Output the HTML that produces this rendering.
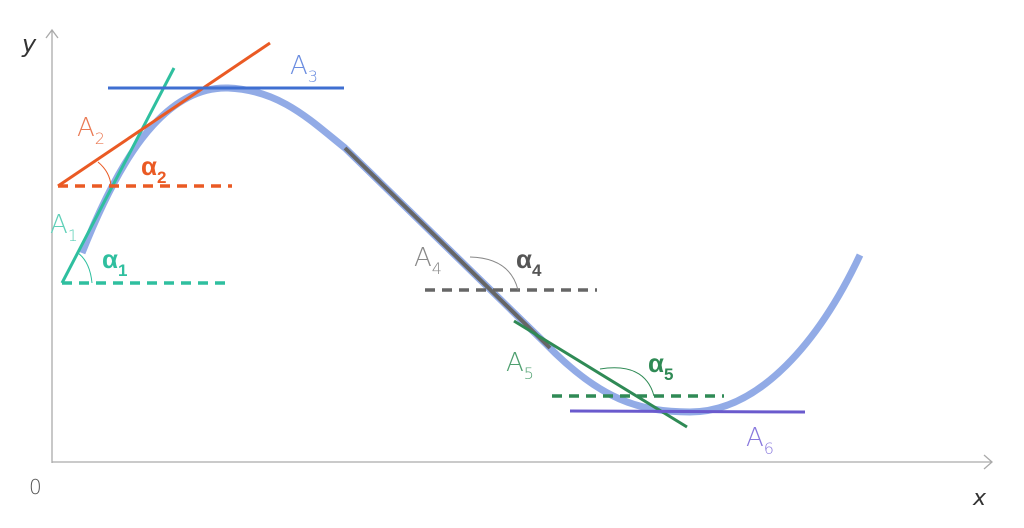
<!DOCTYPE html>
<html><head><meta charset="utf-8"><style>
html,body{margin:0;padding:0;background:#fff;width:1024px;height:528px;overflow:hidden}
text{font-family:"DejaVu Sans","Liberation Sans",sans-serif;font-weight:300}
text.a{font-family:"Liberation Sans",sans-serif;font-weight:bold}
</style></head><body>
<svg width="1024" height="528" viewBox="0 0 1024 528" xmlns="http://www.w3.org/2000/svg">
<g stroke="#aaa" stroke-width="1.3" fill="none">
<line x1="52" y1="30" x2="52" y2="463"/>
<line x1="52" y1="462" x2="992" y2="462"/>
<polyline points="46,38 52,30 58,38"/>
<polyline points="984,455 992,462 984,469"/>
</g>
<path d="M82,253 C115,170 160,86 228,88 C280,90 310,120 345,148 L545,343 C600,400 640,412 690,412 C760,412 820,340 860,255" fill="none" stroke="#92abe6" stroke-width="7"/>
<line x1="345" y1="148" x2="550" y2="348" stroke="#666" stroke-width="4"/>
<line x1="62" y1="283" x2="174" y2="68" stroke="#2fbf9f" stroke-width="3"/>
<line x1="58" y1="186" x2="270" y2="43" stroke="#ea5a24" stroke-width="3"/>
<line x1="108" y1="88" x2="344" y2="88" stroke="#3f6fd1" stroke-width="3"/>
<line x1="58" y1="186" x2="232" y2="186" stroke="#ea5a24" stroke-width="3.5" stroke-dasharray="10,7"/>
<line x1="62" y1="283" x2="232" y2="283" stroke="#2fbf9f" stroke-width="3.5" stroke-dasharray="10,7"/>
<line x1="425" y1="290" x2="597" y2="290" stroke="#666" stroke-width="3.5" stroke-dasharray="10,7"/>
<line x1="514" y1="321" x2="687" y2="427" stroke="#2f8a55" stroke-width="3"/>
<line x1="552" y1="396" x2="724" y2="396" stroke="#2f8a55" stroke-width="3.5" stroke-dasharray="10,7"/>
<line x1="570" y1="411" x2="805" y2="412" stroke="#6a5acd" stroke-width="3"/>
<g fill="none" stroke-width="1">
<path d="M78,253 Q90,262 92,283" stroke="#2fbf9f"/>
<path d="M98,162 Q110,172 111,186" stroke="#ea5a24"/>
<path d="M470,257 Q510,258 518,290" stroke="#888"/>
<path d="M600,369 Q645,362 654,396" stroke="#2f8a55"/>
</g>
<text x="22" y="52" font-size="24" font-style="italic" fill="#333">y</text>
<text x="290" y="74" font-size="26" fill="#6b8de0">A<tspan font-size="16" dy="8">3</tspan></text>
<text x="77" y="136" font-size="26" fill="#ea7a54">A<tspan font-size="16" dy="8">2</tspan></text>
<text class="a" x="141" y="175" font-size="26" fill="#ea5a24">α<tspan font-size="17" dy="8">2</tspan></text>
<text x="50" y="233" font-size="26" fill="#5fd0b8">A<tspan font-size="16" dy="8">1</tspan></text>
<text class="a" x="102" y="268" font-size="26" fill="#2fbf9f">α<tspan font-size="17" dy="8">1</tspan></text>
<text x="414" y="266" font-size="26" fill="#888">A<tspan font-size="16" dy="8">4</tspan></text>
<text class="a" x="516" y="268" font-size="26" fill="#555">α<tspan font-size="17" dy="8">4</tspan></text>
<text x="506" y="371" font-size="26" fill="#4fa070">A<tspan font-size="16" dy="8">5</tspan></text>
<text class="a" x="648" y="372" font-size="26" fill="#2f8a55">α<tspan font-size="17" dy="8">5</tspan></text>
<text x="746" y="446" font-size="26" fill="#8878dd">A<tspan font-size="16" dy="8">6</tspan></text>
<text x="29" y="494" font-size="20" fill="#555">0</text>
<text x="973" y="505" font-size="22" font-style="italic" fill="#333">x</text>
</svg>
</body></html>
